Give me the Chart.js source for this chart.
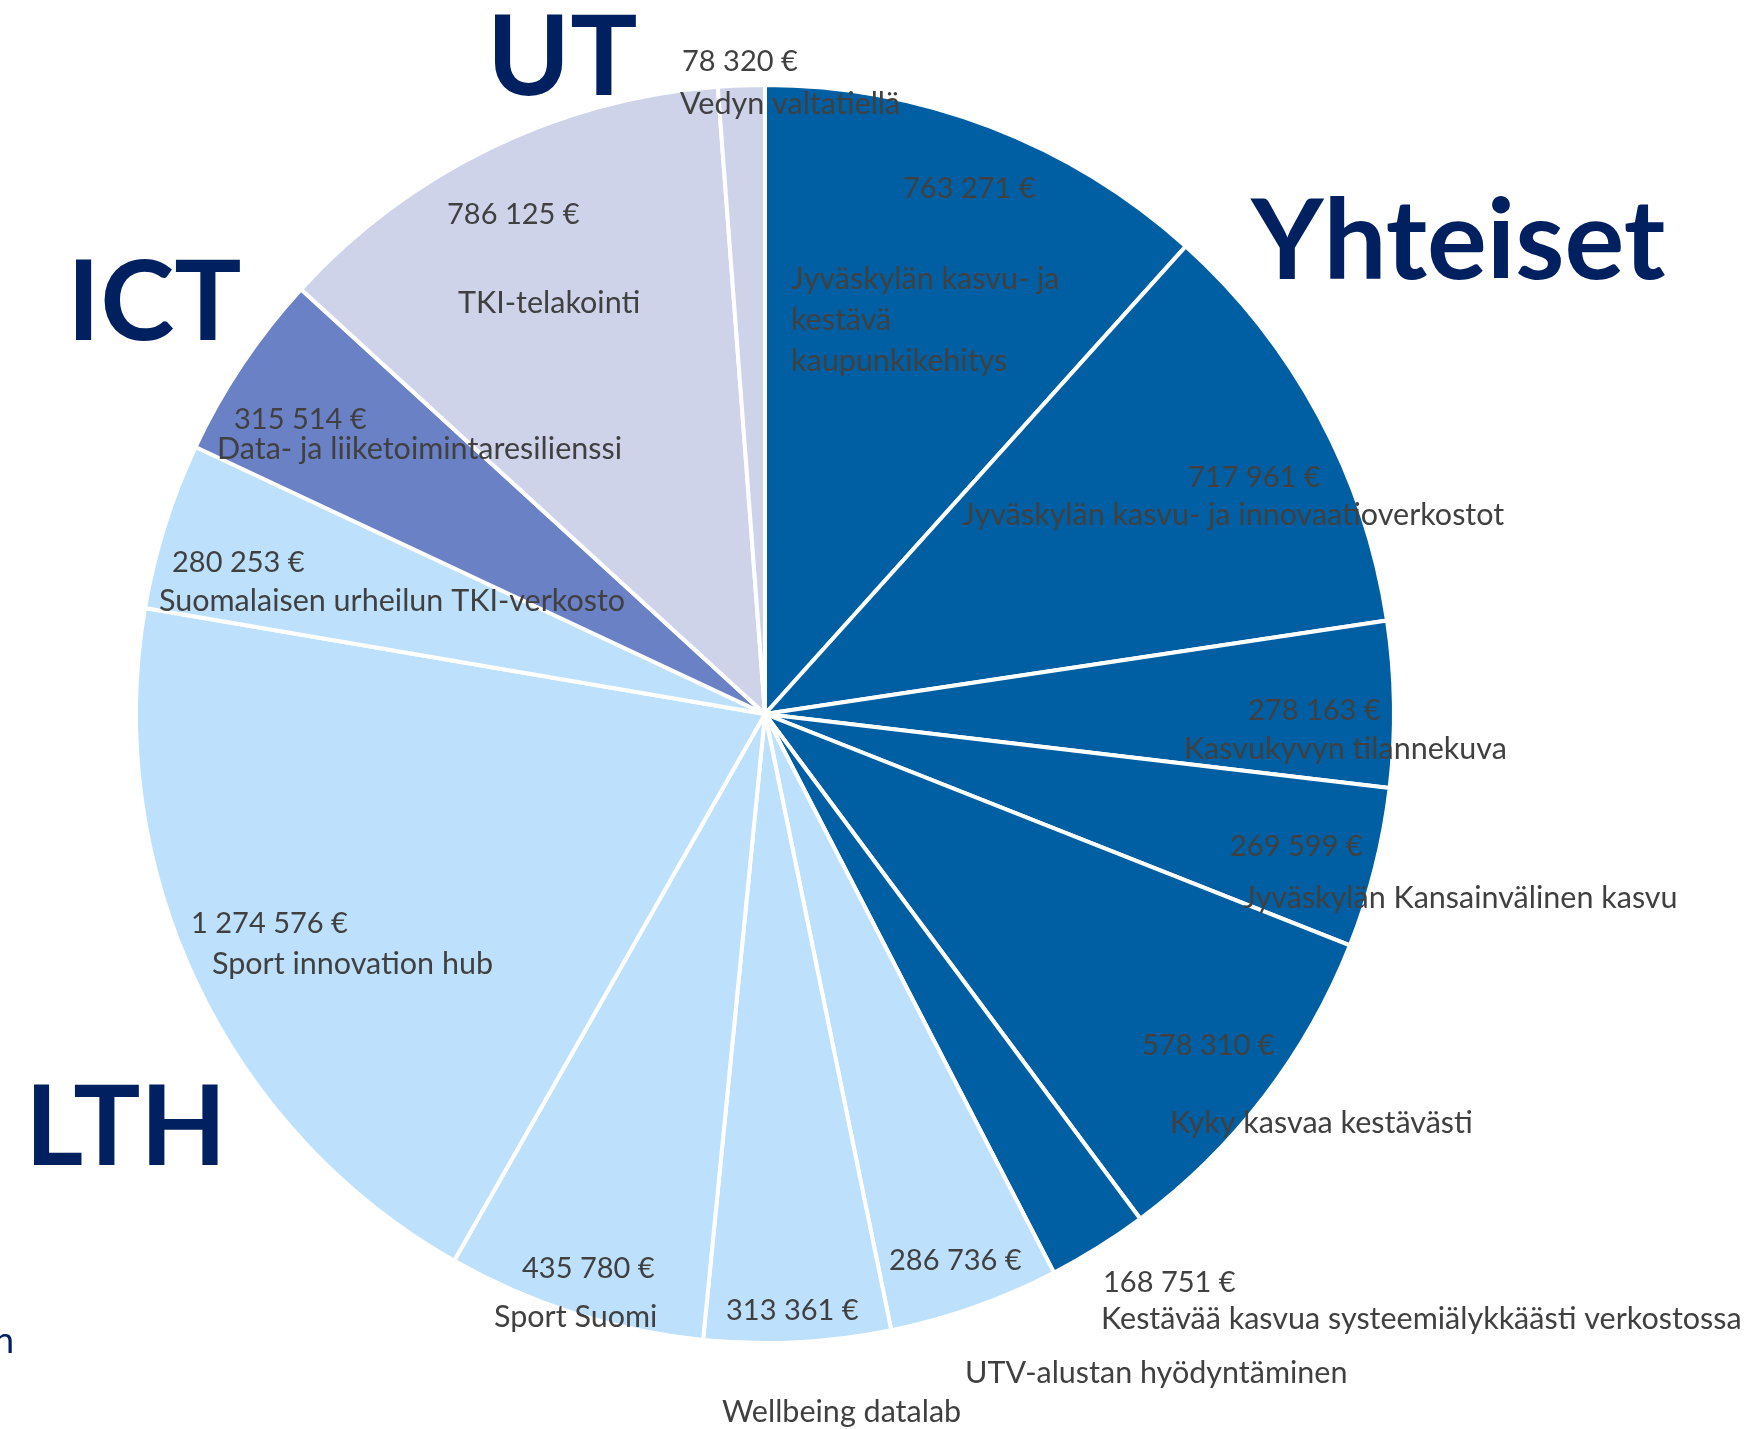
<!DOCTYPE html>
<html>
<head>
<meta charset="utf-8">
<script src="https://cdn.jsdelivr.net/npm/chart.js@4.4.1/dist/chart.umd.min.js"></script>
<style>
  html, body { margin: 0; padding: 0; background: #ffffff; }
  #wrap { width: 1764px; height: 1429px; position: relative; }
</style>
</head>
<body>
<div id="wrap"><canvas id="c"></canvas></div>
<script>
// ---- data ----
const categories = [
  'Jyväskylän kasvu- ja kestävä kaupunkikehitys',
  'Jyväskylän kasvu- ja innovaatioverkostot',
  'Kasvukyvyn tilannekuva',
  'Jyväskylän Kansainvälinen kasvu',
  'Kyky kasvaa kestävästi',
  'Kestävää kasvua systeemiälykkäästi verkostossa',
  'UTV-alustan hyödyntäminen',
  'Wellbeing datalab',
  'Sport Suomi',
  'Sport innovation hub',
  'Suomalaisen urheilun TKI-verkosto',
  'Data- ja liiketoimintaresilienssi',
  'TKI-telakointi',
  'Vedyn valtatiellä'
];
const values = [763271, 717961, 278163, 269599, 578310, 168751, 286736, 313361, 435780, 1274576, 280253, 315514, 786125, 78320];
const groups = ['Yhteiset','Yhteiset','Yhteiset','Yhteiset','Yhteiset','Yhteiset','LTH','LTH','LTH','LTH','LTH','ICT','UT','UT'];
const groupNames = ['UT', 'ICT', 'Yhteiset', 'LTH'];

// ---- styles / layout (not data) ----
const groupColors = { 'Yhteiset': '#005FA3', 'LTH': '#BDE0FC', 'ICT': '#6A81C6', 'UT': '#CED3EA' };
const nameWrap = { 0: ['Jyväskylän kasvu- ja', 'kestävä', 'kaupunkikehitys'] };
// label offsets relative to pie centre: [valueDx, valueDy, nameDx, nameDy]
const labelOffsets = [
  [138,-525, 26,-435],
  [423,-236, 197,-199],
  [483,-3, 419,35],
  [465,133, 478,184],
  [377,332, 405,409],
  [338,569, 336,605],
  [124,547, 200,659],
  [-39,597, -43,698],
  [-243,555, -271,603],
  [-574,210, -553,250],
  [-593,-151, -606,-113],
  [-531,-294, -548,-265],
  [-318,-499, -307,-411],
  [-83,-652, -85,-610]
];
const groupLabelOffsets = { 'UT': [-278,-619], 'ICT': [-698,-374], 'Yhteiset': [486,-435], 'LTH': [-740,451] };

function fmtEuro(v) {
  return String(v).replace(/\B(?=(\d{3})+(?!\d))/g, ' ') + ' €';
}

const labelPlugin = {
  id: 'customLabels',
  afterDatasetsDraw(chart) {
    const ctx = chart.ctx;
    const arc = chart.getDatasetMeta(0).data[0];
    const cx = arc.x, cy = arc.y;
    ctx.save();
    ctx.textAlign = 'left';
    ctx.textBaseline = 'middle';
    ctx.fillStyle = '#404040';
    values.forEach((v, i) => {
      const o = labelOffsets[i];
      ctx.font = '29px Lato, "Open Sans", sans-serif';
      ctx.fillText(fmtEuro(v), cx + o[0], cy + o[1]);
      ctx.font = '30.5px Lato, "Open Sans", sans-serif';
      const lines = nameWrap[i] || [categories[i]];
      lines.forEach((ln, k) => ctx.fillText(ln, cx + o[2], cy + o[3] + k * 41));
    });
    // group headings
    ctx.textBaseline = 'alphabetic';
    ctx.fillStyle = '#002060';
    ctx.font = 'bold 112px Lato, "DejaVu Sans", sans-serif';
    groupNames.forEach(g => {
      const o = groupLabelOffsets[g];
      ctx.fillText(g, cx + o[0], cy + o[1]);
    });
    // clipped text fragment at left edge
    ctx.font = '36px Lato, sans-serif';
    ctx.textAlign = 'right';
    ctx.fillText('n', cx - 751, cy + 639);
    ctx.restore();
  }
};

new Chart(document.getElementById('c'), {
  type: 'pie',
  data: {
    labels: categories,
    datasets: [{
      data: values,
      backgroundColor: groups.map(g => groupColors[g]),
      borderColor: '#ffffff',
      borderWidth: 4,
      hoverOffset: 0,
      offset: 0
    }]
  },
  options: {
    responsive: true,
    maintainAspectRatio: false,
    animation: false,
    radius: 629,
    layout: { padding: { left: 136, right: 370, top: 85, bottom: 86 } },
    plugins: { legend: { display: false }, tooltip: { enabled: false } },
    events: []
  },
  plugins: [labelPlugin]
});
</script>
</body>
</html>
